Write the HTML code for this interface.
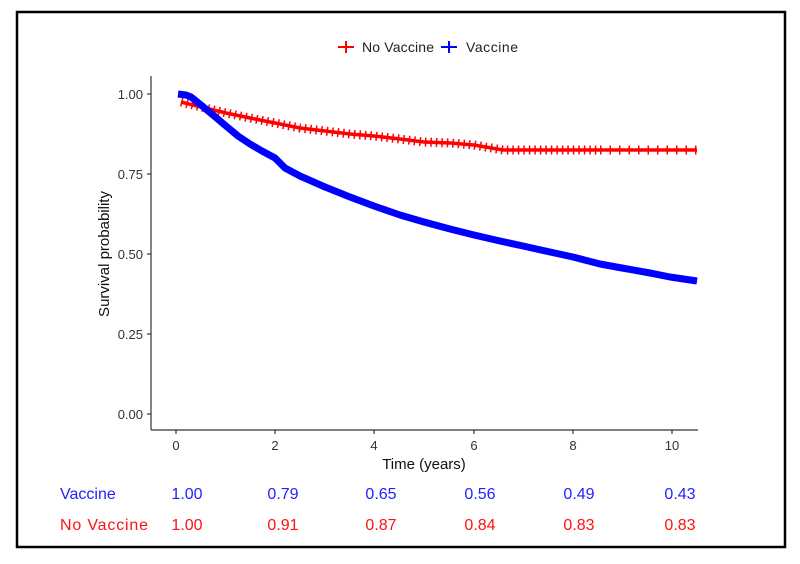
<!DOCTYPE html>
<html><head><meta charset="utf-8"><style>
html,body{margin:0;padding:0;background:#fff;}
svg{display:block;font-family:"Liberation Sans",Arial,sans-serif;}
</style></head><body>
<svg width="800" height="564" viewBox="0 0 800 564" xmlns="http://www.w3.org/2000/svg">
<rect x="0" y="0" width="800" height="564" fill="#fff"/>
<rect x="17" y="12" width="768" height="535" fill="none" stroke="#000" stroke-width="2.5"/>
<g stroke="#f00" stroke-width="2"><line x1="338" y1="47" x2="354" y2="47"/><line x1="346" y1="41" x2="346" y2="53"/></g>
<text x="362" y="52" font-size="14" fill="#222" textLength="72">No Vaccine</text>
<g stroke="#00f" stroke-width="2"><line x1="441" y1="47" x2="457" y2="47"/><line x1="449" y1="41" x2="449" y2="53"/></g>
<text x="466" y="52" font-size="14" fill="#222" textLength="52">Vaccine</text>
<g stroke="#333" stroke-width="1.2" fill="none">
<line x1="151" y1="76" x2="151" y2="430"/>
<line x1="151" y1="430" x2="698" y2="430"/>
<line x1="147" y1="94" x2="151" y2="94"/><line x1="147" y1="174" x2="151" y2="174"/><line x1="147" y1="254" x2="151" y2="254"/><line x1="147" y1="334" x2="151" y2="334"/><line x1="147" y1="414" x2="151" y2="414"/>
<line x1="176" y1="430" x2="176" y2="434"/><line x1="275" y1="430" x2="275" y2="434"/><line x1="374" y1="430" x2="374" y2="434"/><line x1="474" y1="430" x2="474" y2="434"/><line x1="573" y1="430" x2="573" y2="434"/><line x1="672" y1="430" x2="672" y2="434"/>
</g>
<g font-size="13" fill="#333" text-anchor="end">
<text x="143" y="99">1.00</text><text x="143" y="179">0.75</text><text x="143" y="259">0.50</text><text x="143" y="339">0.25</text><text x="143" y="419">0.00</text>
</g>
<g font-size="13" fill="#333" text-anchor="middle">
<text x="176" y="450">0</text><text x="275" y="450">2</text><text x="374" y="450">4</text><text x="474" y="450">6</text><text x="573" y="450">8</text><text x="672" y="450">10</text>
</g>
<text x="424" y="469" font-size="15" fill="#111" text-anchor="middle">Time (years)</text>
<text transform="translate(109,254) rotate(-90)" font-size="15" fill="#111" text-anchor="middle">Survival probability</text>
<polyline fill="none" stroke="#f00" stroke-width="3.5" points="181,102 201,107 226,113 250,118 275,123 300,128 325,131 350,134 374,136 400,139 424,142 450,143 474,145 503,150 697,150"/>
<polyline fill="none" stroke="#f00" stroke-width="9" stroke-dasharray="1.5 4" points="181,102 201,107 226,113 250,118 275,123 300,128 325,131 350,134 374,136 400,139 424,142 450,143 474,145 503,150 600,150"/>
<polyline fill="none" stroke="#f00" stroke-width="9" stroke-dasharray="1.5 8" points="600,150 697,150"/>
<polyline fill="none" stroke="#00f" stroke-width="7" stroke-linejoin="round" points="178,94 186,95 191,97 201,105 213,115 226,126 238,136 250,144 262,151 275,158 285,168 300,176 325,187 350,197 374,206 400,215 424,222 450,229 474,235 500,241 523,246 550,252 573,257 600,264 622,268 650,273 670,277 697,281"/>
<g font-size="16" fill="#22f">
<text x="60" y="499">Vaccine</text>
<g text-anchor="middle"><text x="187" y="499">1.00</text><text x="283" y="499">0.79</text><text x="381" y="499">0.65</text><text x="480" y="499">0.56</text><text x="579" y="499">0.49</text><text x="680" y="499">0.43</text></g>
</g>
<g font-size="16" fill="#f11">
<text x="60" y="530" textLength="88">No Vaccine</text>
<g text-anchor="middle"><text x="187" y="530">1.00</text><text x="283" y="530">0.91</text><text x="381" y="530">0.87</text><text x="480" y="530">0.84</text><text x="579" y="530">0.83</text><text x="680" y="530">0.83</text></g>
</g>
</svg>
</body></html>
